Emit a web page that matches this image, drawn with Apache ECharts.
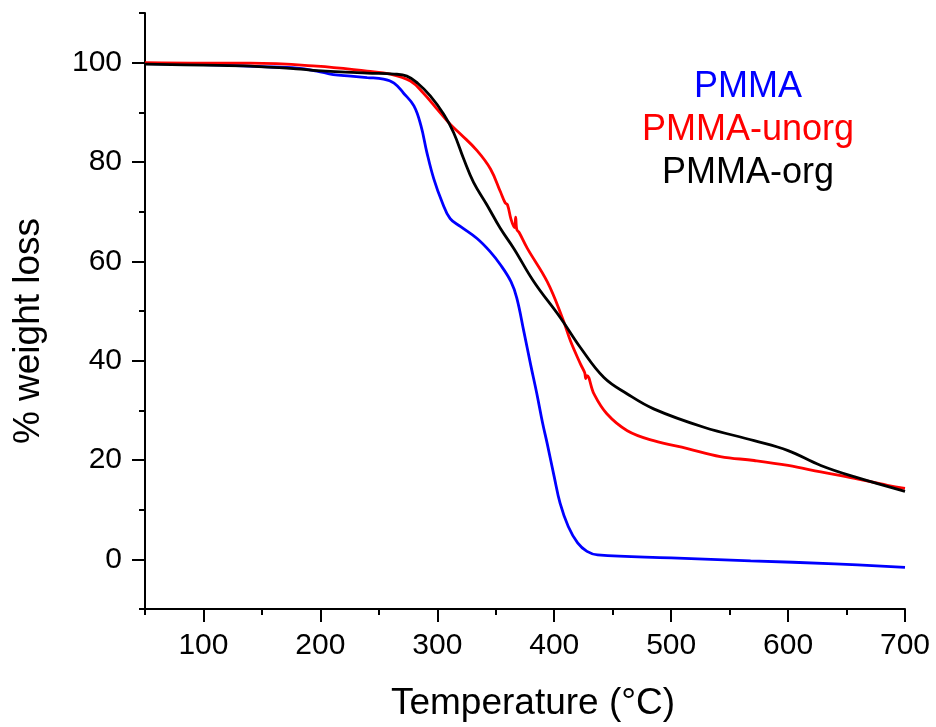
<!DOCTYPE html>
<html>
<head>
<meta charset="utf-8">
<script src="https://cdn.jsdelivr.net/npm/echarts@6/dist/echarts.min.js"></script>
<style>html,body{margin:0;padding:0;background:#fff}#c{width:936px;height:727px}</style>
</head>
<body>
<div id="c"></div>
<script>
// PMMA (blue)
const pmmaT = [50,100,150,180,197,211,226,240,254,263,271,280,286,291,297,304,311,320,334,345,354,363,368,374,380,385,390,394,400,405,412,420,428,437,500,568,640,700];
const pmmaW = [99.8,99.6,99.2,98.9,98.3,97.6,97.3,97.0,96.7,95.9,93.9,91.3,87.3,82.0,76.6,72.0,68.6,67.0,64.6,62.0,59.3,55.9,52.6,45.9,39.0,33.5,27.5,23.3,16.6,11.3,6.6,3.3,1.6,0.9,0.3,-0.3,-0.9,-1.6];
// PMMA-unorg (red)
const unorgT = [50,100,140,197,240,260,277,288,300,311,320,334,345.5,354,358,360,363,366,367,368,370,377,394,407,414,422.5,426,427,428,434,445,462.5,485,514,542,571,600,628,657,685,700];
const unorgW = [100,99.9,99.9,99.3,98.3,97.7,96.3,93.9,90.6,87.6,85.6,82.3,78.6,74.0,71.8,71.4,68.5,66.8,68.9,66.4,65.8,62.6,55.9,48.6,43.9,39.3,37.6,36.4,37.0,33.3,29.3,25.9,23.9,22.3,20.7,19.9,18.9,17.6,16.3,14.9,14.3];
// PMMA-org (black)
const orgT = [50,100,140,183,197,240,263,274,283,294,305.5,314,322.6,331,342.6,354,365.4,382.6,405.4,422.5,442.5,462.5,485,528,571,600,628,657,700];
const orgW = [99.7,99.5,99.3,98.7,98.4,97.9,97.7,97.3,95.9,93.3,89.6,85.9,80.6,75.9,71.3,66.6,62.6,55.9,48.6,42.6,36.6,33.3,30.3,26.6,23.9,21.9,18.9,16.6,13.7];

const xMajor = [100,200,300,400,500,600,700];
const xMinor = [50,150,250,350,450,550,650];
const yMajor = [0,20,40,60,80,100];
const yMinor = [-10,10,30,50,70,90,110];

const names = ['PMMA','PMMA-unorg','PMMA-org'];
const colors = ['#0000ff','#ff0000','#000000'];

const pair = (t,w) => t.map((v,i)=>[v,w[i]]);
const font = 'Liberation Sans, Arial, sans-serif';

const chart = echarts.init(document.getElementById('c'), null, {renderer:'canvas'});
const axisLine = {show:true, onZero:false, lineStyle:{color:'#000', width:2}};
chart.setOption({
  animation:false,
  backgroundColor:'#fff',
  grid:{left:145, right:31, top:13, bottom:114, containLabel:false},
  legend:{
    orient:'vertical', left:628, top:64, icon:'none', itemWidth:0, itemHeight:10, itemGap:7,
    selectedMode:false,
    data:names,
    formatter:n=>'{'+['p','u','o'][names.indexOf(n)]+'|'+n+'}',
    textStyle:{fontFamily:font, fontSize:36, rich:{
      p:{color:colors[0], width:220, align:'center', fontSize:36, fontFamily:font},
      u:{color:colors[1], width:220, align:'center', fontSize:36, fontFamily:font},
      o:{color:colors[2], width:220, align:'center', fontSize:36, fontFamily:font}
    }}
  },
  xAxis:[{
    type:'value', min:50, max:700,
    axisLine:axisLine,
    axisTick:{show:true, inside:false, length:13, lineStyle:{width:2,color:'#000'}, customValues:xMajor},
    axisLabel:{show:true, margin:22, fontSize:30, color:'#000', fontFamily:font, customValues:xMajor},
    splitLine:{show:false},
    name:'Temperature (°C)', nameLocation:'middle', nameGap:76,
    nameTextStyle:{fontSize:37, color:'#000', fontFamily:font, padding:[0,0,0,16]}
  },{
    type:'value', min:50, max:700, position:'bottom',
    axisLine:{show:false, onZero:false},
    axisTick:{show:true, length:6, lineStyle:{width:2,color:'#000'}, customValues:xMinor},
    axisLabel:{show:false}, splitLine:{show:false}
  }],
  yAxis:[{
    type:'value', min:-10, max:110,
    axisLine:axisLine,
    axisTick:{show:true, inside:false, length:13, lineStyle:{width:2,color:'#000'}, customValues:yMajor},
    axisLabel:{show:true, margin:23, fontSize:30, color:'#000', fontFamily:font, customValues:yMajor},
    splitLine:{show:false},
    name:'% weight loss', nameLocation:'middle', nameGap:98,
    nameTextStyle:{fontSize:37, color:'#000', fontFamily:font, padding:[0,40,0,0]}
  },{
    type:'value', min:-10, max:110, position:'left',
    axisLine:{show:false, onZero:false},
    axisTick:{show:true, length:6, lineStyle:{width:2,color:'#000'}, customValues:yMinor},
    axisLabel:{show:false}, splitLine:{show:false}
  }],
  series:[
    {name:names[0], type:'line', data:pair(pmmaT,pmmaW), showSymbol:false, smooth:0.4, lineStyle:{color:colors[0], width:2.8}, itemStyle:{color:colors[0]}},
    {name:names[1], type:'line', data:pair(unorgT,unorgW), showSymbol:false, smooth:0.4, lineStyle:{color:colors[1], width:2.8}, itemStyle:{color:colors[1]}},
    {name:names[2], type:'line', data:pair(orgT,orgW), showSymbol:false, smooth:0.4, lineStyle:{color:colors[2], width:2.8}, itemStyle:{color:colors[2]}}
  ]
});
</script>
</body>
</html>
